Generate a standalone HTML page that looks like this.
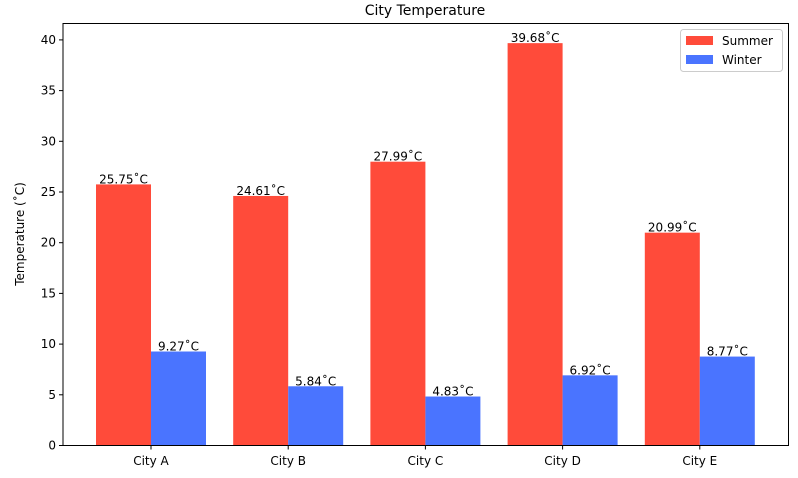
<!DOCTYPE html>
<html><head><meta charset="utf-8"><style>
body{margin:0;background:#fff;}
svg{display:block;font-family:"DejaVu Sans","Liberation Sans",sans-serif;}
</style></head><body>
<svg id="chart" width="798" height="478">
<text x="425" y="15" font-size="14" text-anchor="middle" fill="#000">City Temperature</text>
<text transform="translate(24,234) rotate(-90)" font-size="12" text-anchor="middle">Temperature (˚C)</text>
<g id="bars"></g><g id="yt"></g><g id="xt"></g>
<rect x="63" y="23.5" width="725.5" height="422" fill="none" stroke="#000" stroke-width="1"/>
<g>
<rect x="680.5" y="29.5" width="102" height="42" rx="3" fill="#fff" stroke="#ccc"/>
<rect x="686" y="36" width="27" height="9" fill="#ff4b3a"/>
<text x="722" y="45" font-size="12">Summer</text>
<rect x="686" y="55" width="27" height="9" fill="#4a74ff"/>
<text x="722" y="64" font-size="12">Winter</text>
</g>
</svg>
<script>
const categories=["City A","City B","City C","City D","City E"];
const summer=[25.75,24.61,27.99,39.68,20.99];
const winter=[9.27,5.84,4.83,6.92,8.77];
const yTicks=[0,5,10,15,20,25,30,35,40];
const NS="http://www.w3.org/2000/svg";
const x0=151,step=137.2,bw=55;
const yS=v=>445.5-v*10.14;
function mk(t,a,p){const e=document.createElementNS(NS,t);for(const k in a)e.setAttribute(k,a[k]);p.appendChild(e);return e;}
const bars=document.getElementById('bars'),yt=document.getElementById('yt'),xt=document.getElementById('xt');
categories.forEach((c,i)=>{
  const cx=x0+i*step;
  [[summer[i],cx-bw,'#ff4b3a','summer'],[winter[i],cx,'#4a74ff','winter']].forEach(([v,x,col,s])=>{
    const r=mk('rect',{x:x,y:yS(v),width:bw,height:yS(0)-yS(v),fill:col},bars);
    
    
    const t=mk('text',{x:x+bw/2,y:yS(v)-1,'font-size':12,'text-anchor':'middle'},bars);
    t.textContent=v.toFixed(2)+'˚C';
    
    
  });
  mk('line',{x1:cx,x2:cx,y1:445.5,y2:449.5,stroke:'#000'},xt);
  const t=mk('text',{x:cx,y:465,'font-size':12,'text-anchor':'middle'},xt);
  t.textContent=c;
  
  
});
yTicks.forEach(v=>{
  const y=yS(v);
  mk('line',{x1:59,x2:63,y1:y,y2:y,stroke:'#000'},yt);
  const t=mk('text',{x:56,y:y+4,'font-size':12,'text-anchor':'end'},yt);
  t.textContent=v;
  
  
});
</script>
</body></html>
